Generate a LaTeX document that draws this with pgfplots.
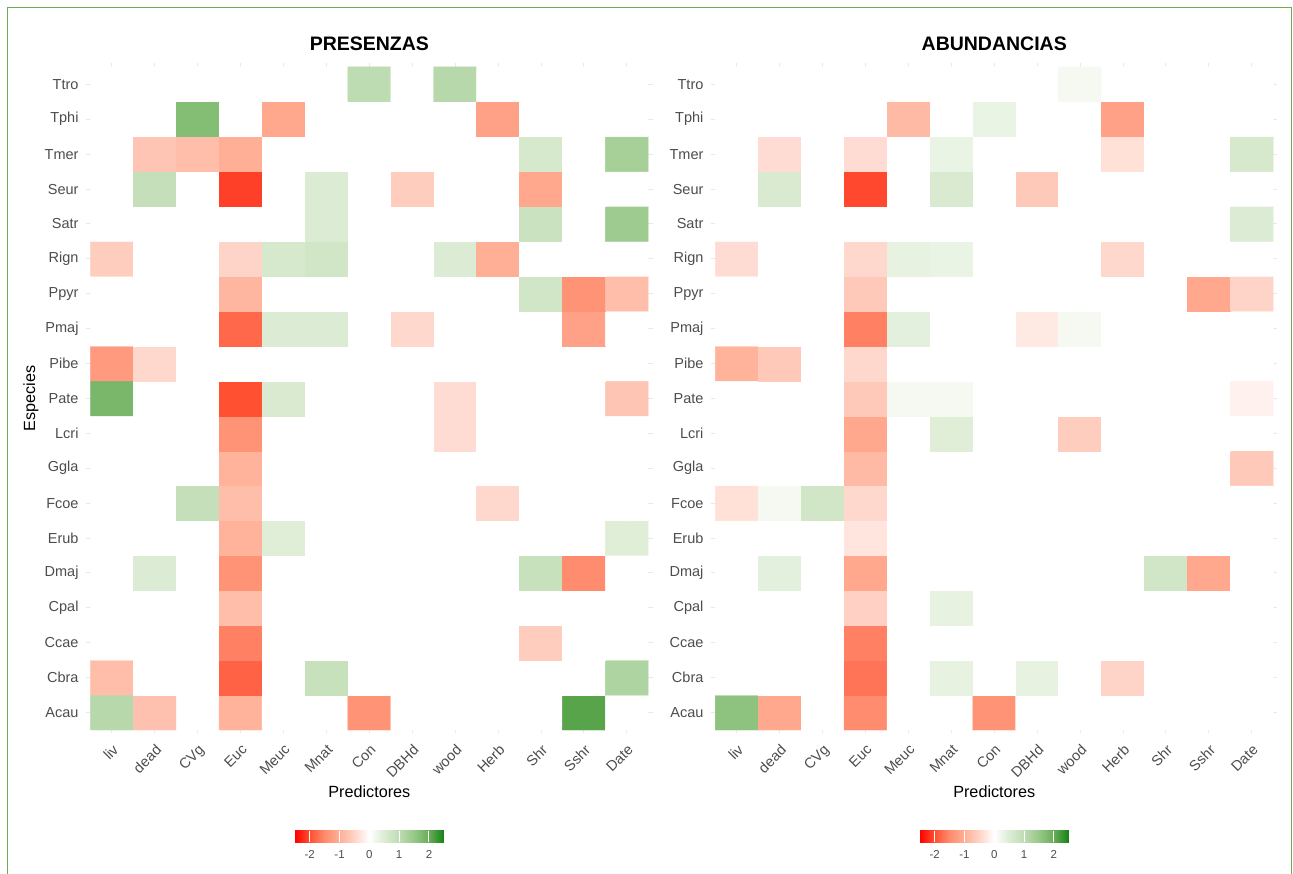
\documentclass[border=0pt]{standalone}
\usepackage{pgfplots}
\pgfplotsset{compat=1.18}
\usepackage{fontspec}
\setmainfont{Liberation Sans}
\usetikzlibrary{calc}
\definecolor{tickgray}{RGB}{77,77,77}
\definecolor{gridgray}{RGB}{232,232,232}
\definecolor{framegreen}{RGB}{110,172,84}
\pgfplotsset{
  colormap={rg}{rgb255(0cm)=(255,0,0) rgb255(1cm)=(255,80,50) rgb255(2cm)=(255,140,110)
    rgb255(3cm)=(255,175,150) rgb255(4cm)=(255,212,200) rgb255(5cm)=(255,255,255)
    rgb255(6cm)=(220,236,212) rgb255(7cm)=(190,220,178) rgb255(8cm)=(150,200,135)
    rgb255(9cm)=(105,172,88) rgb255(10cm)=(20,130,20)},
  heat/.style={
    anchor=south west, scale only axis, width=566.3pt, height=670.1pt,
    xmin=0.4, xmax=13.6, ymin=0.4, ymax=19.6,
    xtick={1,...,13}, ytick={1,...,19},
    xticklabels={liv,dead,CVg,Euc,Meuc,Mnat,Con,DBHd,wood,Herb,Shr,Sshr,Date},
    yticklabels={Acau,Cbra,Ccae,Cpal,Dmaj,Erub,Fcoe,Ggla,Lcri,Pate,Pibe,Pmaj,Ppyr,Rign,Satr,Seur,Tmer,Tphi,Ttro},
    axis line style={draw=none}, major tick length=0pt,
    grid=major, grid style={draw=gridgray, line width=0.9pt},
    colormap name=rg, point meta min=-2.5, point meta max=2.5,
    xticklabel style={font=\fontsize{14.5}{16}\selectfont, text=tickgray, inner sep=0pt,
      xshift=0pt, yshift=-10pt, rotate=45, anchor=north east},
    yticklabel style={font=\fontsize{14.5}{16}\selectfont, text=tickgray, inner sep=0pt,
      xshift=-7.5pt, anchor=east},
    title style={font=\bfseries\fontsize{19.5}{22}\selectfont, at={(axis description cs:0.5,1.0197)}, anchor=base, yshift=-6pt},
    xlabel style={font=\fontsize{16.2}{18}\selectfont, at={(axis description cs:0.5,-0.0948)}, anchor=base},
    ylabel style={font=\fontsize{16.2}{18}\selectfont, at={(axis description cs:-0.0901,0.5)}, anchor=base, rotate=0},
    colorbar horizontal,
    colorbar style={
      at={($(parent axis.south)+(0,-88.5pt)$)}, anchor=north,
      scale only axis, width=149pt, height=11.5pt,
      axis line style={draw=none},
      xtick={-2,-1,0,1,2}, xticklabels={-2,-1,0,1,2},
      xtick style={draw=white, line width=1pt},
      major tick length=11.5pt, tick align=inside,
      xticklabel style={font=\fontsize{11.5}{12}\selectfont, text=tickgray, inner sep=0pt, yshift=-8.5pt},
      ytick=\empty,
    },
  },
}
\begin{document}
\begin{tikzpicture}[x=1pt,y=1pt]
\useasboundingbox (0,0) rectangle (1293,874);
\fill[white] (0,0) rectangle (1293,874);
\draw[framegreen, line width=1.4pt] (7.2,-3) -- (7.2,866.5) -- (1291.5,866.5) -- (1291.5,-3);

\begin{axis}[heat, at={(86.2pt,140.5pt)}, title={PRESENZAS}, xlabel={Predictores}, ylabel={Especies}]
\addplot[matrix plot*, mesh/cols=13, point meta=explicit] coordinates {
(1,1)[1.1] (2,1)[-0.75] (3,1)[0] (4,1)[-0.95] (5,1)[0] (6,1)[0] (7,1)[-1.4] (8,1)[0] (9,1)[0] (10,1)[0] (11,1)[0] (12,1)[2.1] (13,1)[0]
(1,2)[-0.8] (2,2)[0] (3,2)[0] (4,2)[-1.85] (5,2)[0] (6,2)[0.85] (7,2)[0] (8,2)[0] (9,2)[0] (10,2)[0] (11,2)[0] (12,2)[0] (13,2)[1.2]
(1,3)[0] (2,3)[0] (3,3)[0] (4,3)[-1.6] (5,3)[0] (6,3)[0] (7,3)[0] (8,3)[0] (9,3)[0] (10,3)[0] (11,3)[-0.6] (12,3)[0] (13,3)[0]
(1,4)[0] (2,4)[0] (3,4)[0] (4,4)[-0.8] (5,4)[0] (6,4)[0] (7,4)[0] (8,4)[0] (9,4)[0] (10,4)[0] (11,4)[0] (12,4)[0] (13,4)[0]
(1,5)[0] (2,5)[0.5] (3,5)[0] (4,5)[-1.4] (5,5)[0] (6,5)[0] (7,5)[0] (8,5)[0] (9,5)[0] (10,5)[0] (11,5)[0.85] (12,5)[-1.5] (13,5)[0]
(1,6)[0] (2,6)[0] (3,6)[0] (4,6)[-0.95] (5,6)[0.45] (6,6)[0] (7,6)[0] (8,6)[0] (9,6)[0] (10,6)[0] (11,6)[0] (12,6)[0] (13,6)[0.45]
(1,7)[0] (2,7)[0] (3,7)[0.9] (4,7)[-0.8] (5,7)[0] (6,7)[0] (7,7)[0] (8,7)[0] (9,7)[0] (10,7)[-0.45] (11,7)[0] (12,7)[0] (13,7)[0]
(1,8)[0] (2,8)[0] (3,8)[0] (4,8)[-0.95] (5,8)[0] (6,8)[0] (7,8)[0] (8,8)[0] (9,8)[0] (10,8)[0] (11,8)[0] (12,8)[0] (13,8)[0]
(1,9)[0] (2,9)[0] (3,9)[0] (4,9)[-1.4] (5,9)[0] (6,9)[0] (7,9)[0] (8,9)[0] (9,9)[-0.4] (10,9)[0] (11,9)[0] (12,9)[0] (13,9)[0]
(1,10)[1.8] (2,10)[0] (3,10)[0] (4,10)[-2.0] (5,10)[0.55] (6,10)[0] (7,10)[0] (8,10)[0] (9,10)[-0.4] (10,10)[0] (11,10)[0] (12,10)[0] (13,10)[-0.7]
(1,11)[-1.3] (2,11)[-0.45] (3,11)[0] (4,11)[0] (5,11)[0] (6,11)[0] (7,11)[0] (8,11)[0] (9,11)[0] (10,11)[0] (11,11)[0] (12,11)[0] (13,11)[0]
(1,12)[0] (2,12)[0] (3,12)[0] (4,12)[-1.8] (5,12)[0.5] (6,12)[0.5] (7,12)[0] (8,12)[-0.45] (9,12)[0] (10,12)[0] (11,12)[0] (12,12)[-1.2] (13,12)[0]
(1,13)[0] (2,13)[0] (3,13)[0] (4,13)[-0.9] (5,13)[0] (6,13)[0] (7,13)[0] (8,13)[0] (9,13)[0] (10,13)[0] (11,13)[0.7] (12,13)[-1.4] (13,13)[-0.8]
(1,14)[-0.6] (2,14)[0] (3,14)[0] (4,14)[-0.5] (5,14)[0.6] (6,14)[0.7] (7,14)[0] (8,14)[0] (9,14)[0.5] (10,14)[-1.0] (11,14)[0] (12,14)[0] (13,14)[0]
(1,15)[0] (2,15)[0] (3,15)[0] (4,15)[0] (5,15)[0] (6,15)[0.5] (7,15)[0] (8,15)[0] (9,15)[0] (10,15)[0] (11,15)[0.8] (12,15)[0] (13,15)[1.4]
(1,16)[0] (2,16)[0.9] (3,16)[0] (4,16)[-2.1] (5,16)[0] (6,16)[0.5] (7,16)[0] (8,16)[-0.6] (9,16)[0] (10,16)[0] (11,16)[-1.1] (12,16)[0] (13,16)[0]
(1,17)[0] (2,17)[-0.7] (3,17)[-0.8] (4,17)[-1.0] (5,17)[0] (6,17)[0] (7,17)[0] (8,17)[0] (9,17)[0] (10,17)[0] (11,17)[0.6] (12,17)[0] (13,17)[1.3]
(1,18)[0] (2,18)[0] (3,18)[1.7] (4,18)[0] (5,18)[-1.1] (6,18)[0] (7,18)[0] (8,18)[0] (9,18)[0] (10,18)[-1.2] (11,18)[0] (12,18)[0] (13,18)[0]
(1,19)[0] (2,19)[0] (3,19)[0] (4,19)[0] (5,19)[0] (6,19)[0] (7,19)[1.0] (8,19)[0] (9,19)[1.1] (10,19)[0] (11,19)[0] (12,19)[0] (13,19)[0]
};
\end{axis}

\begin{axis}[heat, at={(711.1pt,140.5pt)}, title={ABUNDANCIAS}, xlabel={Predictores}]
\addplot[matrix plot*, mesh/cols=13, point meta=explicit] coordinates {
(1,1)[1.6] (2,1)[-1.1] (3,1)[0] (4,1)[-1.5] (5,1)[0] (6,1)[0] (7,1)[-1.4] (8,1)[0] (9,1)[0] (10,1)[0] (11,1)[0] (12,1)[0] (13,1)[0]
(1,2)[0] (2,2)[0] (3,2)[0] (4,2)[-1.7] (5,2)[0] (6,2)[0.35] (7,2)[0] (8,2)[0.35] (9,2)[0] (10,2)[-0.5] (11,2)[0] (12,2)[0] (13,2)[0]
(1,3)[0] (2,3)[0] (3,3)[0] (4,3)[-1.6] (5,3)[0] (6,3)[0] (7,3)[0] (8,3)[0] (9,3)[0] (10,3)[0] (11,3)[0] (12,3)[0] (13,3)[0]
(1,4)[0] (2,4)[0] (3,4)[0] (4,4)[-0.55] (5,4)[0] (6,4)[0.35] (7,4)[0] (8,4)[0] (9,4)[0] (10,4)[0] (11,4)[0] (12,4)[0] (13,4)[0]
(1,5)[0] (2,5)[0.4] (3,5)[0] (4,5)[-1.1] (5,5)[0] (6,5)[0] (7,5)[0] (8,5)[0] (9,5)[0] (10,5)[0] (11,5)[0.7] (12,5)[-1.1] (13,5)[0]
(1,6)[0] (2,6)[0] (3,6)[0] (4,6)[-0.3] (5,6)[0] (6,6)[0] (7,6)[0] (8,6)[0] (9,6)[0] (10,6)[0] (11,6)[0] (12,6)[0] (13,6)[0]
(1,7)[-0.35] (2,7)[0.15] (3,7)[0.7] (4,7)[-0.45] (5,7)[0] (6,7)[0] (7,7)[0] (8,7)[0] (9,7)[0] (10,7)[0] (11,7)[0] (12,7)[0] (13,7)[0]
(1,8)[0] (2,8)[0] (3,8)[0] (4,8)[-0.85] (5,8)[0] (6,8)[0] (7,8)[0] (8,8)[0] (9,8)[0] (10,8)[0] (11,8)[0] (12,8)[0] (13,8)[-0.65]
(1,9)[0] (2,9)[0] (3,9)[0] (4,9)[-1.1] (5,9)[0] (6,9)[0.45] (7,9)[0] (8,9)[0] (9,9)[-0.6] (10,9)[0] (11,9)[0] (12,9)[0] (13,9)[0]
(1,10)[0] (2,10)[0] (3,10)[0] (4,10)[-0.65] (5,10)[0.15] (6,10)[0.15] (7,10)[0] (8,10)[0] (9,10)[0] (10,10)[0] (11,10)[0] (12,10)[0] (13,10)[-0.15]
(1,11)[-0.95] (2,11)[-0.65] (3,11)[0] (4,11)[-0.45] (5,11)[0] (6,11)[0] (7,11)[0] (8,11)[0] (9,11)[0] (10,11)[0] (11,11)[0] (12,11)[0] (13,11)[0]
(1,12)[0] (2,12)[0] (3,12)[0] (4,12)[-1.6] (5,12)[0.4] (6,12)[0] (7,12)[0] (8,12)[-0.25] (9,12)[0.15] (10,12)[0] (11,12)[0] (12,12)[0] (13,12)[0]
(1,13)[0] (2,13)[0] (3,13)[0] (4,13)[-0.65] (5,13)[0] (6,13)[0] (7,13)[0] (8,13)[0] (9,13)[0] (10,13)[0] (11,13)[0] (12,13)[-1.1] (13,13)[-0.5]
(1,14)[-0.4] (2,14)[0] (3,14)[0] (4,14)[-0.45] (5,14)[0.35] (6,14)[0.3] (7,14)[0] (8,14)[0] (9,14)[0] (10,14)[-0.45] (11,14)[0] (12,14)[0] (13,14)[0]
(1,15)[0] (2,15)[0] (3,15)[0] (4,15)[0] (5,15)[0] (6,15)[0] (7,15)[0] (8,15)[0] (9,15)[0] (10,15)[0] (11,15)[0] (12,15)[0] (13,15)[0.5]
(1,16)[0] (2,16)[0.55] (3,16)[0] (4,16)[-2.05] (5,16)[0] (6,16)[0.55] (7,16)[0] (8,16)[-0.65] (9,16)[0] (10,16)[0] (11,16)[0] (12,16)[0] (13,16)[0]
(1,17)[0] (2,17)[-0.4] (3,17)[0] (4,17)[-0.4] (5,17)[0] (6,17)[0.3] (7,17)[0] (8,17)[0] (9,17)[0] (10,17)[-0.35] (11,17)[0] (12,17)[0] (13,17)[0.6]
(1,18)[0] (2,18)[0] (3,18)[0] (4,18)[0] (5,18)[-0.85] (6,18)[0] (7,18)[0.3] (8,18)[0] (9,18)[0] (10,18)[-1.2] (11,18)[0] (12,18)[0] (13,18)[0]
(1,19)[0] (2,19)[0] (3,19)[0] (4,19)[0] (5,19)[0] (6,19)[0] (7,19)[0] (8,19)[0] (9,19)[0.15] (10,19)[0] (11,19)[0] (12,19)[0] (13,19)[0]
};
\end{axis}
\end{tikzpicture}
\end{document}
